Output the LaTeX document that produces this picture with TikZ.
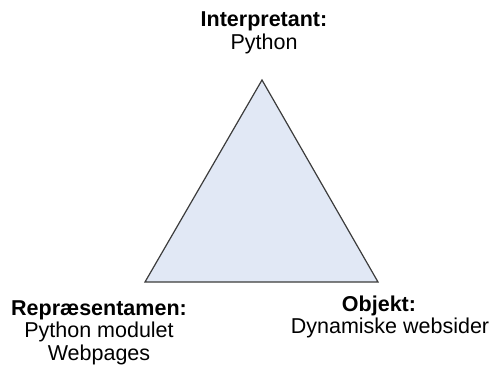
\documentclass[tikz,border=0pt]{standalone}
\usepackage{fontspec}
\setmainfont{Liberation Sans}
\definecolor{signfill}{RGB}{225,232,245}
\definecolor{signline}{RGB}{60,60,60}
\begin{document}
\begin{tikzpicture}[x=1pt,y=1pt,
  lbl/.style={inner sep=0pt,anchor=north,align=center,
    font=\fontsize{21.5}{22.5}\selectfont},
  lbltitle/.style={lbl,font=\fontsize{21.5}{22.5}\selectfont\bfseries},
  sign/.style={draw=signline,line width=1.2pt,fill=signfill,line join=miter}]
  \useasboundingbox (0,0) rectangle (492,370);
  % corners of the semiotic triangle
  \coordinate (apex) at (262,290);
  \coordinate (left) at (145,88);
  \coordinate (right) at (378,88);
  \draw[sign] (apex) -- (right) -- (left) -- cycle;
  % labels at the three corners
  \node[lbltitle] (interp) at (264,358.7) {Interpretant:};
  \node[lbl] (interpval) at (264,336.7) {Python};
  \node[lbltitle] (repr) at (99,69.9) {Repræsentamen:};
  \node[lbl] (reprval) at (99,47.9) {Python modulet\\Webpages};
  \node[lbltitle] (obj) at (379,73.9) {Objekt:};
  \node[lbl] (objval) at (390,51.9) {Dynamiske websider};
\end{tikzpicture}
\end{document}
